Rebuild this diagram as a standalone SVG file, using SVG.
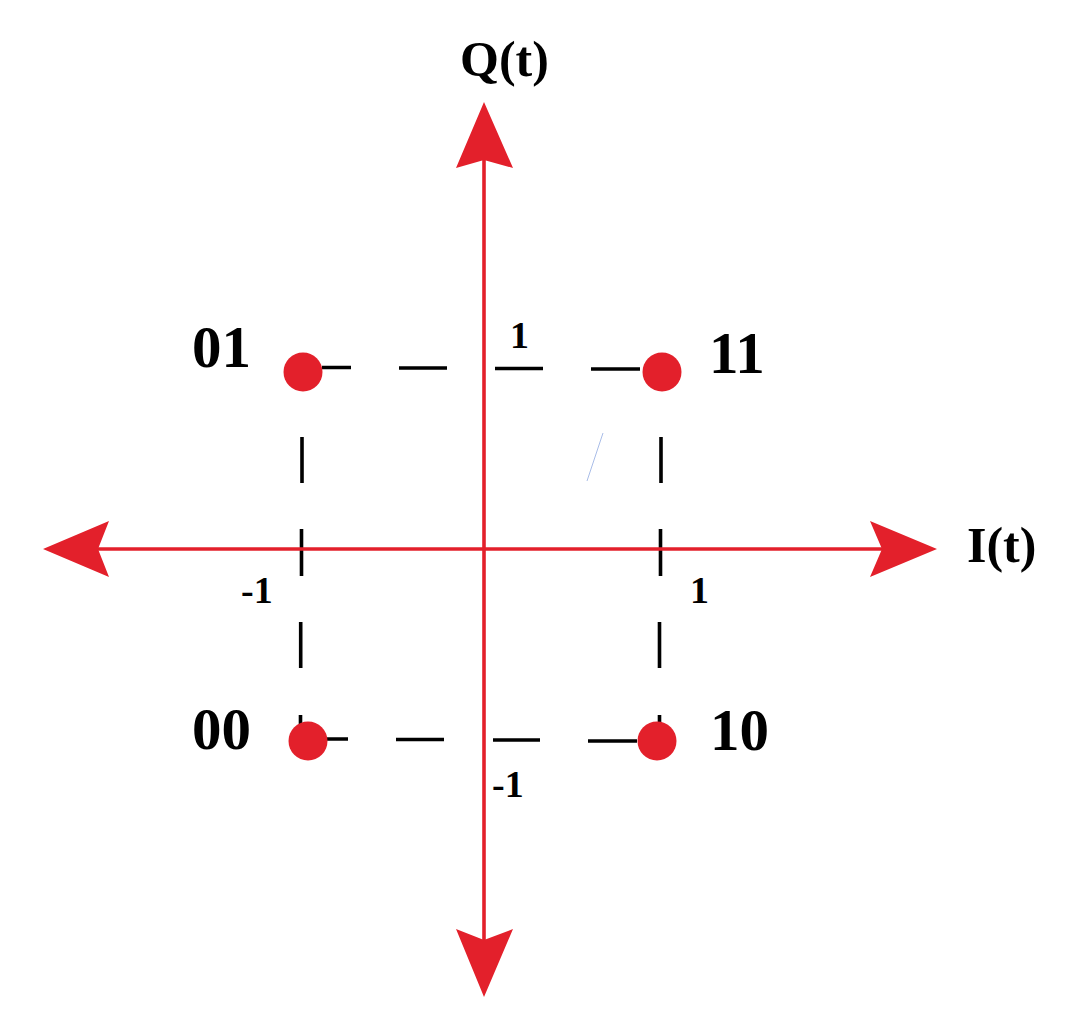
<svg xmlns="http://www.w3.org/2000/svg" width="1072" height="1032" viewBox="0 0 1072 1032">
<style>
.axis{stroke:#e3202b;stroke-width:3.6;fill:none}
.head{fill:#e3202b}
.dash{stroke:#000;stroke-width:3.6;fill:none}
.dot{fill:#e3202b}
.big{font-family:"Liberation Serif","Times New Roman",serif;font-weight:bold;font-size:59px;fill:#000}
.ax{font-family:"Liberation Serif","Times New Roman",serif;font-weight:bold;font-size:50px;fill:#000}
.tick{font-family:"Liberation Serif","Times New Roman",serif;font-weight:bold;font-size:38px;fill:#000}
</style>
<rect width="1072" height="1032" fill="#fff"/>
<g id="connectors">
<g id="dashes">
<path class="dash" d="M322 367.5H351M399 368H447M495 368.5H543M591 369H640"/>
<path class="dash" d="M327 739H348M396 739.5H444M493 740H540M588 741H637"/>
<path class="dash" d="M302 437V483M301.5 529V576M300.7 622V668M300.5 715V728"/>
<path class="dash" d="M661 437V483M660.5 529V576M659.5 622V668M659.5 715V728"/>
</g>
<g id="axes">
<line class="axis" x1="98" y1="549" x2="882" y2="549"/>
<line class="axis" x1="484" y1="160" x2="484" y2="940"/>
<polygon class="head" points="484,102 513,168 484,160 456,168"/>
<polygon class="head" points="484,997 513,929 484,940 456,929"/>
<polygon class="head" points="43,549 109,521 98,549 109,577"/>
<polygon class="head" points="937,549 870,521 882,549 870,577"/>
</g>
<line x1="603" y1="433" x2="587" y2="481" stroke="#a9bde8" stroke-width="1"/>
</g>
<g id="node-01"><circle class="dot" cx="303" cy="372" r="19.5"/><text class="big" x="192" y="367">01</text></g>
<g id="node-11"><circle class="dot" cx="662" cy="372" r="19.5"/><text class="big" x="709" y="373">11</text></g>
<g id="node-00"><circle class="dot" cx="308" cy="741" r="19.5"/><text class="big" x="192" y="749">00</text></g>
<g id="node-10"><circle class="dot" cx="657" cy="741" r="19.5"/><text class="big" x="710" y="750">10</text></g>
<g id="labels">
<text class="ax" x="460" y="76">Q(t)</text>
<text class="ax" x="967" y="562">I(t)</text>
<text class="tick" x="510" y="348">1</text>
<text class="tick" x="690" y="603">1</text>
<text class="tick" x="241" y="603">-1</text>
<text class="tick" x="492" y="797">-1</text>
</g>
</svg>
